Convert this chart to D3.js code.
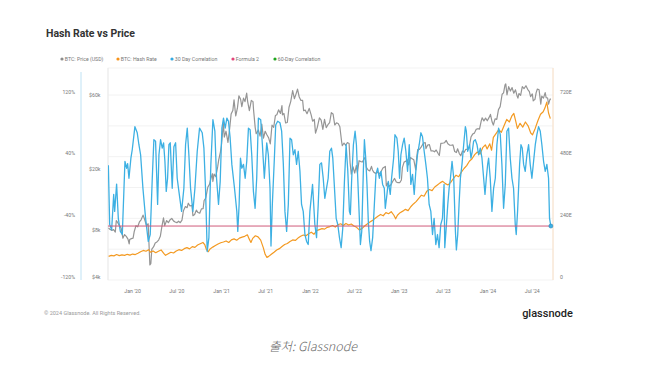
<!DOCTYPE html>
<html><head><meta charset="utf-8">
<script src="https://cdn.jsdelivr.net/npm/d3@7"></script>
<style>
html,body{margin:0;padding:0;background:#fff;}
svg{display:block;}
</style></head><body>
<svg id="chart" width="666" height="366"></svg>
<script>
// ---------- DATA ----------
const chartTitle = "Hash Rate vs Price";
const legendLabels = ["BTC: Price (USD)", "BTC: Hash Rate", "30 Day Correlation", "Formula 2", "60-Day Correlation"];
const legendColors = ["#8c8c8c", "#f7931a", "#35a9e1", "#e2457c", "#1fa51f"];
const corrTicks = [-1.2, -0.4, 0.4, 1.2];
const corrTickLabels = ["-120%", "-40%", "40%", "120%"];
const priceTicks = [4000, 8000, 20000, 60000];
const priceTickLabels = ["$4k", "$8k", "$20k", "$60k"];
const hashTicks = [0, 240, 480, 720];
const hashTickLabels = ["0", "240E", "480E", "720E"];
const formula2Value = -0.5;
const copyrightText = "© 2024 Glassnode. All Rights Reserved.";
const brandText = "glassnode";
const sourceText = "출처: Glassnode";

// BTC price (USD)
const btcPrice = [
["2019-09-24",8500],["2019-10-01",8300],["2019-10-08",8200],["2019-10-15",8300],["2019-10-22",8000],["2019-10-26",9500],["2019-11-01",9200],["2019-11-08",8800],["2019-11-15",8500],["2019-11-22",7300],["2019-11-29",7700],["2019-12-06",7500],["2019-12-13",7200],["2019-12-18",6700],["2019-12-20",7150],["2019-12-27",7250],
["2020-01-03",7300],["2020-01-08",8100],["2020-01-15",8800],["2020-01-22",8650],["2020-01-29",9300],["2020-02-05",9600],["2020-02-13",10300],["2020-02-20",9600],["2020-02-27",8800],["2020-03-05",9050],["2020-03-12",4900],["2020-03-16",5000],["2020-03-20",6200],["2020-03-27",6400],["2020-04-03",6800],["2020-04-10",6900],["2020-04-17",7100],["2020-04-24",7500],["2020-04-30",8600],["2020-05-07",9900],["2020-05-12",8800],["2020-05-20",9500],["2020-05-27",9200],["2020-06-03",9600],["2020-06-10",9800],["2020-06-17",9450],["2020-06-24",9300],["2020-07-01",9200],["2020-07-08",9400],["2020-07-15",9200],["2020-07-22",9550],["2020-07-28",11000],["2020-08-05",11700],["2020-08-12",11500],["2020-08-17",12300],["2020-08-24",11800],["2020-09-01",11900],["2020-09-05",10200],["2020-09-12",10400],["2020-09-19",11100],["2020-09-26",10700],["2020-10-03",10600],["2020-10-10",11300],["2020-10-17",11350],["2020-10-21",12800],["2020-10-28",13300],["2020-11-05",15600],["2020-11-12",16300],["2020-11-18",17800],["2020-11-24",19100],["2020-11-26",17000],["2020-12-01",19000],["2020-12-08",18300],["2020-12-16",21300],["2020-12-20",23500],["2020-12-27",26400],["2020-12-31",29000],
["2021-01-08",40500],["2021-01-12",33000],["2021-01-19",36000],["2021-01-27",30500],["2021-02-03",37500],["2021-02-09",46500],["2021-02-16",49000],["2021-02-21",57500],["2021-02-28",45200],["2021-03-07",51000],["2021-03-13",61000],["2021-03-20",58000],["2021-03-25",52000],["2021-04-01",59000],["2021-04-07",56000],["2021-04-14",63500],["2021-04-18",56000],["2021-04-25",49000],["2021-05-03",57000],["2021-05-10",56000],["2021-05-12",50000],["2021-05-19",38000],["2021-05-23",34700],["2021-06-01",36700],["2021-06-08",33500],["2021-06-15",40000],["2021-06-22",32500],["2021-06-29",36000],["2021-07-06",34200],["2021-07-13",32700],["2021-07-20",29800],["2021-07-27",39400],["2021-08-03",38200],["2021-08-10",45500],["2021-08-16",46000],["2021-08-23",49500],["2021-08-31",47000],["2021-09-06",52700],["2021-09-08",46000],["2021-09-14",47000],["2021-09-21",40700],["2021-09-28",41000],["2021-10-05",51500],["2021-10-12",56000],["2021-10-20",66000],["2021-10-27",58500],["2021-11-03",62900],["2021-11-09",67500],["2021-11-16",60000],["2021-11-23",57000],["2021-11-30",57000],["2021-12-04",49000],["2021-12-11",49300],["2021-12-18",46800],["2021-12-27",50600],
["2022-01-04",46000],["2022-01-10",41800],["2022-01-17",43000],["2022-01-22",35000],["2022-01-29",38000],["2022-02-07",44000],["2022-02-14",42500],["2022-02-21",37000],["2022-02-28",43000],["2022-03-07",38000],["2022-03-14",39700],["2022-03-21",41000],["2022-03-28",47500],["2022-04-04",46600],["2022-04-11",39500],["2022-04-18",40800],["2022-04-25",40400],["2022-05-02",38500],["2022-05-09",31000],["2022-05-12",29000],["2022-05-19",30200],["2022-05-26",29200],["2022-06-02",30400],["2022-06-09",30000],["2022-06-13",22500],["2022-06-18",19000],["2022-06-25",21200],["2022-07-02",19300],["2022-07-09",21600],["2022-07-13",19300],["2022-07-20",23200],["2022-07-27",22900],["2022-08-03",22800],["2022-08-10",23900],["2022-08-14",24400],["2022-08-19",21000],["2022-08-26",20200],["2022-09-02",19900],["2022-09-09",21300],["2022-09-13",20200],["2022-09-19",19500],["2022-09-26",19200],["2022-10-03",19600],["2022-10-10",19100],["2022-10-17",19500],["2022-10-26",20800],["2022-11-05",21300],["2022-11-09",15900],["2022-11-14",16600],["2022-11-21",15800],["2022-11-28",16200],["2022-12-05",17000],["2022-12-13",17800],["2022-12-20",16900],["2022-12-27",16700],
["2023-01-03",16700],["2023-01-10",17400],["2023-01-14",20900],["2023-01-21",22700],["2023-01-28",23000],["2023-02-02",23700],["2023-02-09",21800],["2023-02-16",24300],["2023-02-23",23900],["2023-03-02",23500],["2023-03-10",20200],["2023-03-14",24500],["2023-03-18",27400],["2023-03-25",27500],["2023-04-01",28400],["2023-04-11",30200],["2023-04-18",30400],["2023-04-21",27800],["2023-04-28",29300],["2023-05-05",29500],["2023-05-12",26800],["2023-05-19",26900],["2023-05-26",26500],["2023-06-02",27200],["2023-06-10",25800],["2023-06-15",25100],["2023-06-21",30000],["2023-06-28",30100],["2023-07-06",30300],["2023-07-13",31400],["2023-07-20",29900],["2023-07-27",29300],["2023-08-03",29200],["2023-08-10",29400],["2023-08-17",26600],["2023-08-24",26200],["2023-08-29",27700],["2023-09-05",25800],["2023-09-11",25000],["2023-09-18",26800],["2023-09-25",26300],["2023-10-02",27500],["2023-10-09",27600],["2023-10-16",28500],["2023-10-23",33000],["2023-10-30",34500],["2023-11-06",35000],["2023-11-13",37000],["2023-11-20",37400],["2023-11-27",37200],["2023-12-04",41900],["2023-12-08",44000],["2023-12-15",42000],["2023-12-22",43800],["2023-12-29",42100],
["2024-01-05",44100],["2024-01-11",46300],["2024-01-18",41300],["2024-01-23",39500],["2024-01-30",43300],["2024-02-06",43000],["2024-02-13",49700],["2024-02-20",52000],["2024-02-28",62500],["2024-03-05",63800],["2024-03-11",72000],["2024-03-14",73000],["2024-03-19",62000],["2024-03-26",70000],["2024-04-02",65600],["2024-04-09",69000],["2024-04-16",63500],["2024-04-23",66800],["2024-04-30",60600],["2024-05-03",59000],["2024-05-07",63200],["2024-05-14",61500],["2024-05-21",70000],["2024-05-28",68000],["2024-06-05",71000],["2024-06-12",67300],["2024-06-19",65000],["2024-06-24",60300],["2024-07-01",62800],["2024-07-05",56700],["2024-07-12",57900],["2024-07-17",64100],["2024-07-22",67600],["2024-07-29",66800],["2024-08-05",54000],["2024-08-09",60900],["2024-08-16",59000],["2024-08-23",64000],["2024-08-27",59500],["2024-09-02",59100],["2024-09-06",54000],["2024-09-12",58100],["2024-09-16",58200]
];

// BTC hash rate (EH/s), [decimal year, value]
const hashRate = [
[2019.73,92],[2019.76,96],[2019.79,94],[2019.82,99],[2019.85,95],[2019.88,98],[2019.91,96],[2019.94,100],[2019.97,97],[2020.00,101],[2020.03,99],[2020.06,104],[2020.09,110],[2020.12,115],[2020.15,112],[2020.18,118],[2020.20,108],[2020.23,113],[2020.26,106],[2020.29,112],[2020.32,117],[2020.35,104],[2020.37,96],[2020.40,102],[2020.43,108],[2020.46,105],[2020.49,113],[2020.52,118],[2020.55,115],[2020.58,122],[2020.61,126],[2020.64,121],[2020.67,130],[2020.70,127],[2020.73,136],[2020.76,141],[2020.79,146],[2020.81,138],[2020.83,118],[2020.85,110],[2020.87,121],[2020.90,128],[2020.93,134],[2020.96,140],[2020.99,145],
[2021.02,148],[2021.05,152],[2021.08,146],[2021.11,156],[2021.14,160],[2021.17,155],[2021.20,163],[2021.23,167],[2021.26,170],[2021.29,176],[2021.31,160],[2021.33,146],[2021.35,162],[2021.38,172],[2021.41,168],[2021.44,155],[2021.47,125],[2021.49,100],[2021.51,88],[2021.53,92],[2021.56,100],[2021.59,108],[2021.62,117],[2021.65,122],[2021.68,130],[2021.71,138],[2021.74,142],[2021.77,150],[2021.80,156],[2021.83,154],[2021.86,163],[2021.89,170],[2021.92,175],[2021.95,172],[2021.98,180],
[2022.01,186],[2022.04,178],[2022.07,192],[2022.10,196],[2022.13,200],[2022.16,198],[2022.19,205],[2022.22,208],[2022.25,212],[2022.28,206],[2022.31,215],[2022.34,219],[2022.37,212],[2022.40,220],[2022.43,214],[2022.46,218],[2022.49,210],[2022.52,205],[2022.55,195],[2022.58,200],[2022.61,210],[2022.64,218],[2022.67,226],[2022.70,232],[2022.73,240],[2022.76,248],[2022.79,255],[2022.82,250],[2022.85,262],[2022.88,258],[2022.91,266],[2022.94,252],[2022.96,238],[2022.98,252],
[2023.01,262],[2023.04,268],[2023.07,275],[2023.10,270],[2023.13,285],[2023.16,296],[2023.19,305],[2023.22,318],[2023.25,330],[2023.28,326],[2023.31,345],[2023.34,352],[2023.37,348],[2023.40,362],[2023.43,370],[2023.46,378],[2023.49,384],[2023.52,375],[2023.55,370],[2023.58,380],[2023.61,395],[2023.64,408],[2023.67,402],[2023.70,420],[2023.73,434],[2023.76,445],[2023.79,462],[2023.82,472],[2023.85,488],[2023.88,498],[2023.91,490],[2023.94,515],[2023.97,526],[2023.99,510],
[2024.02,530],[2024.04,505],[2024.06,555],[2024.09,570],[2024.12,585],[2024.15,575],[2024.18,600],[2024.21,625],[2024.24,615],[2024.27,640],[2024.29,648],[2024.31,620],[2024.33,590],[2024.36,610],[2024.39,595],[2024.42,615],[2024.45,600],[2024.48,572],[2024.50,565],[2024.53,590],[2024.56,620],[2024.59,645],[2024.62,655],[2024.64,670],[2024.66,692],[2024.68,650],[2024.70,628]
];

// 30-day correlation, [decimal year, value]
const corr30 = [
[2019.727,0.29],[2019.742,-0.48],[2019.764,-0.55],[2019.787,-0.09],[2019.798,-0.31],[2019.820,0.045],[2019.839,-0.40],[2019.862,-0.57],[2019.884,-0.61],[2019.903,-0.01],[2019.914,0.34],[2019.933,0.25],[2019.944,0.31],[2019.959,0.12],[2019.981,0.38],[2019.996,0.49],
[2020.026,0.79],[2020.052,0.71],[2020.071,0.555],[2020.090,0.425],[2020.116,-0.01],[2020.146,-0.40],[2020.176,-0.70],[2020.198,-0.61],[2020.221,0.12],[2020.239,0.62],[2020.258,0.60],[2020.269,0.21],[2020.281,-0.22],[2020.296,0.425],[2020.314,0.62],[2020.333,0.51],[2020.348,0.58],[2020.363,0.34],[2020.378,-0.05],[2020.393,0.12],[2020.408,0.555],[2020.423,0.58],[2020.445,-0.01],[2020.464,0.53],[2020.483,0.58],[2020.501,0.12],[2020.520,-0.05],[2020.550,-0.31],[2020.576,-0.01],[2020.595,0.555],[2020.614,0.77],[2020.632,0.425],[2020.651,-0.01],[2020.677,-0.31],[2020.700,-0.01],[2020.726,0.47],[2020.752,0.77],[2020.782,0.71],[2020.801,0.51],[2020.819,-0.01],[2020.838,-0.83],[2020.857,-0.65],[2020.879,0.30],[2020.902,0.88],[2020.924,0.73],[2020.943,0.12],
[2020.965,-0.22],[2020.984,0.08],[2021.003,0.77],[2021.021,0.90],[2021.040,0.77],[2021.059,0.90],[2021.077,0.86],[2021.096,0.64],[2021.115,0.30],[2021.145,-0.01],[2021.171,-0.31],[2021.182,-0.57],[2021.197,-0.22],[2021.212,0.38],[2021.227,0.25],[2021.246,0.30],[2021.265,0.12],[2021.283,0.34],[2021.302,0.77],[2021.321,0.75],[2021.339,0.425],[2021.358,-0.05],[2021.377,-0.27],[2021.395,0.12],[2021.414,0.90],[2021.440,0.88],[2021.459,0.555],[2021.481,0.12],[2021.508,0.58],[2021.526,0.425],[2021.545,-0.01],[2021.556,-0.76],[2021.571,-0.22],[2021.594,0.38],[2021.609,0.81],[2021.631,0.86],[2021.657,0.84],[2021.676,0.73],[2021.695,0.30],[2021.713,-0.31],[2021.732,-0.57],[2021.751,-0.22],[2021.770,0.64],[2021.788,0.62],[2021.807,0.425],[2021.826,0.49],[2021.844,0.30],[2021.863,0.47],[2021.882,0.21],[2021.900,-0.22],[2021.919,-0.31],[2021.938,-0.61],[2021.957,-0.70],[2021.975,-0.74],[2021.994,-0.31],
[2022.024,0.04],[2022.050,-0.48],[2022.069,-0.65],[2022.088,-0.22],[2022.106,0.30],[2022.125,0.32],[2022.144,0.12],[2022.162,-0.14],[2022.181,-0.01],[2022.200,0.12],[2022.218,0.47],[2022.237,0.51],[2022.252,0.38],[2022.271,-0.01],[2022.290,-0.40],[2022.308,-0.48],[2022.327,-0.65],[2022.346,-0.78],[2022.364,-0.53],[2022.383,0.08],[2022.402,0.555],[2022.421,0.21],[2022.439,-0.31],[2022.450,-0.35],[2022.465,0.12],[2022.484,0.555],[2022.503,0.73],[2022.518,0.555],[2022.533,0.12],[2022.551,-0.40],[2022.563,-0.74],[2022.578,-0.57],[2022.596,0.21],[2022.608,0.62],[2022.623,0.38],[2022.637,0.04],[2022.652,-0.44],[2022.667,-0.70],[2022.682,-0.82],[2022.701,-0.65],[2022.720,-0.22],[2022.738,0.17],[2022.757,0.25],[2022.776,0.12],[2022.795,0.21],[2022.813,0.04],[2022.832,-0.01],[2022.843,-0.27],[2022.862,-0.09],[2022.877,0.08],[2022.899,-0.09],[2022.914,0.12],[2022.937,0.38],[2022.952,0.685],[2022.974,0.64],[2022.989,0.47],
[2023.004,0.12],[2023.019,0.425],[2023.038,0.555],[2023.056,0.64],[2023.075,0.47],[2023.094,0.21],[2023.113,0.555],[2023.131,0.04],[2023.150,0.17],[2023.169,-0.09],[2023.187,0.21],[2023.206,0.425],[2023.225,0.555],[2023.244,0.71],[2023.262,0.66],[2023.281,0.47],[2023.300,0.30],[2023.318,0.12],[2023.337,-0.22],[2023.356,-0.31],[2023.375,-0.61],[2023.393,-0.40],[2023.412,-0.74],[2023.431,-0.61],[2023.449,-0.78],[2023.468,-0.48],[2023.487,-0.40],[2023.505,0.04],[2023.513,-0.78],[2023.532,-0.48],[2023.547,-0.22],[2023.562,-0.01],[2023.577,0.12],[2023.595,0.34],[2023.614,0.12],[2023.633,-0.57],[2023.644,-0.81],[2023.659,-0.61],[2023.674,-0.22],[2023.689,0.12],[2023.707,0.30],[2023.726,0.555],[2023.745,0.79],[2023.756,0.73],[2023.771,0.47],[2023.793,0.555],[2023.808,0.38],[2023.823,0.47],[2023.838,0.60],[2023.857,0.62],[2023.876,0.555],[2023.894,0.425],[2023.913,0.51],[2023.932,0.38],[2023.951,0.12],[2023.966,-0.09],[2023.981,0.12],[2023.996,0.30],
[2024.007,0.38],[2024.025,0.12],[2024.044,-0.31],[2024.063,-0.01],[2024.082,0.12],[2024.100,0.555],[2024.119,0.77],[2024.138,0.685],[2024.156,0.30],[2024.175,-0.27],[2024.194,0.04],[2024.212,0.73],[2024.231,0.77],[2024.250,0.38],[2024.269,0.12],[2024.287,-0.01],[2024.306,-0.48],[2024.317,-0.61],[2024.332,-0.31],[2024.355,0.30],[2024.370,0.555],[2024.385,0.51],[2024.400,0.30],[2024.418,0.21],[2024.437,0.425],[2024.456,0.555],[2024.474,0.30],[2024.493,0.12],[2024.512,0.34],[2024.531,0.555],[2024.549,0.685],[2024.568,0.79],[2024.587,0.73],[2024.605,0.555],[2024.624,0.34],[2024.643,0.21],[2024.661,0.30],[2024.680,0.12],[2024.691,-0.40],[2024.706,-0.50]
];

const xDomainYears = [2019.723, 2024.73];

// ---------- DRAW ----------
const svg = d3.select("#chart");
const plot = {left: 108, right: 553, top: 68, bottom: 280};
const toDate = d => { const y = Math.floor(d); const s = Date.UTC(y,0,1), e = Date.UTC(y+1,0,1); return new Date(s + (d - y) * (e - s)); };
const parse = d3.utcParse("%Y-%m-%d");

const x = d3.scaleUtc().domain(xDomainYears.map(toDate)).range([plot.left, plot.right]);
const yCorr = d3.scaleLinear().domain([-1.2, 1.2]).range([280, 95]);
const yPrice = d3.scaleLog().domain([4000, 60000]).range([278.5, 97]);
const yHash = d3.scaleLinear().domain([0, 720]).range([280, 95]);

svg.append("rect").attr("width", 666).attr("height", 366).attr("fill", "#fff");

const axFont = "Roboto, 'Liberation Sans', sans-serif";

// title
svg.append("text").attr("x", 46).attr("y", 37).text(chartTitle)
  .attr("font-family", axFont).attr("font-size", 10.5).attr("font-weight", 700).attr("fill", "#333");

// legend
const legendX = [62, 118, 172, 233, 275];
const lg = svg.append("g").attr("font-family", axFont).attr("font-size", 5.2).attr("fill", "#777");
legendLabels.forEach((t, i) => {
  lg.append("circle").attr("cx", legendX[i]).attr("cy", 59).attr("r", 1.6).attr("fill", legendColors[i]);
  lg.append("text").attr("x", legendX[i] + 2.8).attr("y", 60.8).text(t);
});

// plot box + grid
svg.append("rect").attr("x", plot.left).attr("y", plot.top).attr("width", plot.right - plot.left).attr("height", plot.bottom - plot.top)
  .attr("fill", "none").attr("stroke", "#efefef").attr("stroke-width", 0.8);
const gridVals = d3.range(-0.8, 1.21, 0.4);
svg.append("g").selectAll("line").data(gridVals).join("line")
  .attr("x1", plot.left).attr("x2", plot.right)
  .attr("y1", d => yCorr(d)).attr("y2", d => yCorr(d))
  .attr("stroke", "#f0f0f0").attr("stroke-width", 0.9);

// axis lines
svg.append("line").attr("x1", 81).attr("x2", 81).attr("y1", 72).attr("y2", 280).attr("stroke", "#bfe2f4").attr("stroke-width", 1);
svg.append("line").attr("x1", plot.right).attr("x2", plot.right).attr("y1", plot.top).attr("y2", plot.bottom).attr("stroke", "#fae0c6").attr("stroke-width", 1);
svg.append("line").attr("x1", plot.left).attr("x2", plot.left).attr("y1", plot.top).attr("y2", plot.bottom).attr("stroke", "#e8e8e8").attr("stroke-width", 0.8);

// corr axis labels
svg.append("g").selectAll("text").data(corrTicks).join("text")
  .attr("x", 75).attr("y", d => yCorr(d) - 3).attr("dy", "0.35em").attr("text-anchor", "end")
  .attr("font-family", axFont).attr("font-size", 5.2).attr("fill", "#777")
  .text((d, i) => corrTickLabels[i]);
// price axis labels
svg.append("g").selectAll("text").data(priceTicks).join("text")
  .attr("x", 100.5).attr("y", d => yPrice(d) - 1.5).attr("dy", "0.35em").attr("text-anchor", "end")
  .attr("font-family", axFont).attr("font-size", 5.2).attr("fill", "#777")
  .text((d, i) => priceTickLabels[i]);
// hash axis labels
svg.append("g").selectAll("text").data(hashTicks).join("text")
  .attr("x", 560).attr("y", d => yHash(d) - 3).attr("dy", "0.35em").attr("text-anchor", "start")
  .attr("font-family", axFont).attr("font-size", 5.2).attr("fill", "#777")
  .text((d, i) => hashTickLabels[i]);
// x axis labels
const xTicks = x.ticks(d3.utcMonth.every(6));
const fmt = d3.utcFormat("%b '%y");
svg.append("g").selectAll("text").data(xTicks).join("text")
  .attr("x", d => x(d)).attr("y", 291).attr("dy", "0.35em").attr("text-anchor", "middle")
  .attr("font-family", axFont).attr("font-size", 5.2).attr("fill", "#777")
  .text(d => fmt(d));

// clip
svg.append("defs").append("clipPath").attr("id", "clip").append("rect")
  .attr("x", plot.left).attr("y", plot.top).attr("width", plot.right - plot.left).attr("height", plot.bottom - plot.top);
const g = svg.append("g").attr("clip-path", "url(#clip)");

const priceLine = d3.line().x(d => x(parse(d[0]))).y(d => yPrice(d[1]));
g.append("path").datum(btcPrice).attr("d", priceLine).attr("fill", "none").attr("stroke", "#959595").attr("stroke-width", 1.2).attr("stroke-linejoin", "round");

const hashLine = d3.line().x(d => x(toDate(d[0]))).y(d => yHash(d[1]));
g.append("path").datum(hashRate).attr("d", hashLine).attr("fill", "none").attr("stroke", "#f39a22").attr("stroke-width", 1.2).attr("stroke-linejoin", "round");

const corrLine = d3.line().x(d => x(toDate(d[0]))).y(d => yCorr(d[1]));
g.append("path").datum(corr30).attr("d", corrLine).attr("fill", "none").attr("stroke", "#3db0e3").attr("stroke-width", 1.3).attr("stroke-linejoin", "round");

const corrExt = d3.extent(corr30, d => d[0]);
g.append("line").attr("x1", plot.left).attr("x2", x(toDate(corrExt[1])))
  .attr("y1", yCorr(formula2Value)).attr("y2", yCorr(formula2Value))
  .attr("stroke", "#cf5b7a").attr("stroke-width", 1);

const last = corr30[corr30.length - 1];
svg.append("circle").attr("cx", x(toDate(last[0]))).attr("cy", yCorr(last[1])).attr("r", 2)
  .attr("fill", "#3db0e3").attr("stroke", "#2784b8").attr("stroke-width", 0.6);

// footer
svg.append("text").attr("x", 44).attr("y", 314.8).text(copyrightText)
  .attr("font-family", axFont).attr("font-size", 5.5).attr("fill", "#9a9a9a");
svg.append("text").attr("x", 547.5).attr("y", 316.5).attr("text-anchor", "middle").text(brandText)
  .attr("font-family", axFont).attr("font-size", 11).attr("font-weight", 500).attr("fill", "#1e1e1e");
svg.append("text").attr("x", 313).attr("y", 350.5).attr("text-anchor", "middle").text(sourceText)
  .attr("font-family", "'Noto Sans CJK KR', 'Noto Sans', sans-serif").attr("font-style", "italic").attr("font-weight", 300)
  .attr("font-size", 12.5).attr("fill", "#6b6b6b");
</script>
</body></html>
